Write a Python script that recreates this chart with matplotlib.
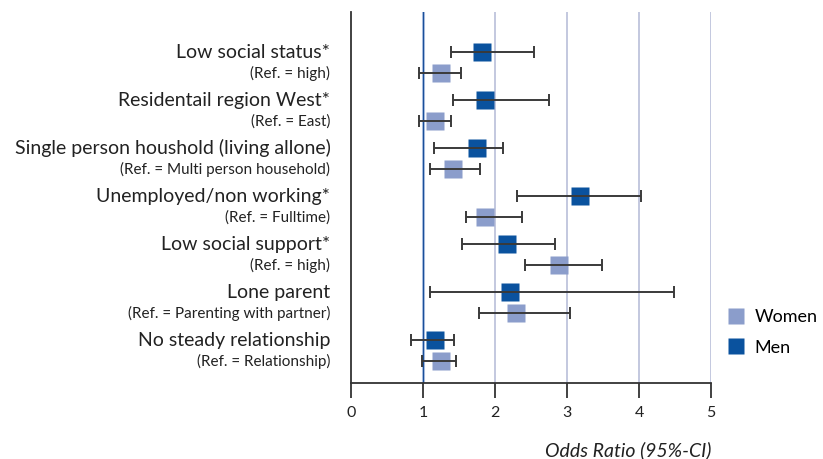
import numpy as np
import matplotlib.pyplot as plt
from matplotlib.transforms import blended_transform_factory

plt.rcParams['font.family'] = ['Lato', 'DejaVu Sans']

# Risk factors and their reference categories
factors = ['Low social status*', 'Residentail region West*',
           'Single person houshold (living allone)', 'Unemployed/non working*',
           'Low social support*', 'Lone parent', 'No steady relationship']
references = ['(Ref. = high)', '(Ref. = East)', '(Ref. = Multi person household)',
              '(Ref. = Fulltime)', '(Ref. = high)', '(Ref. = Parenting with partner)',
              '(Ref. = Relationship)']

# Odds ratios with 95% confidence intervals
men_or = [1.81, 1.86, 1.75, 3.18, 2.16, 2.21, 1.16]
men_lo = [1.38, 1.42, 1.15, 2.30, 1.54, 1.09, 0.83]
men_hi = [2.54, 2.74, 2.11, 4.03, 2.83, 4.48, 1.43]

women_or = [1.24, 1.17, 1.42, 1.86, 2.88, 2.29, 1.24]
women_lo = [0.94, 0.94, 1.09, 1.60, 2.42, 1.78, 0.98]
women_hi = [1.53, 1.38, 1.79, 2.37, 3.48, 3.04, 1.45]

men_color = '#0a529e'
women_color = '#8b9dcb'

fig = plt.figure(figsize=(8.23, 4.59), dpi=100)
ax = fig.add_axes([0.4268, 0.1662, 0.4374, 0.8076])

rows = np.arange(len(factors))
y_men = rows - 0.219
y_women = rows + 0.219

# reference lines
for v in [2, 3, 4, 5]:
    ax.axvline(v, color='#c3c8df', lw=1.4, zorder=0)
ax.axvline(1, color='#c6d5ee', lw=2.2, zorder=0)
ax.axvline(1, color='#1a4f99', lw=1.0, zorder=1)

ax.plot(men_or, y_men, 's', ms=12.3, color=men_color, mec='none', zorder=2, label='Men')
ax.plot(women_or, y_women, 's', ms=12.3, color=women_color, mec='none', zorder=2, label='Women')

for y, m, lo, hi in [(y_men, men_or, men_lo, men_hi), (y_women, women_or, women_lo, women_hi)]:
    m = np.array(m)
    err = [m - np.array(lo), np.array(hi) - m]
    ax.errorbar(m, y, xerr=err, fmt='none', ecolor='#3a3a3a', elinewidth=1.4,
                capsize=4, capthick=1.4, zorder=3)

# row labels to the left of the plot
trans = blended_transform_factory(ax.transAxes, ax.transData)
for i in rows:
    ax.text(-0.058, y_men[i], factors[i], transform=trans, ha='right', va='center',
            fontsize=14, color='#222222')
    ax.text(-0.058, y_women[i], references[i], transform=trans, ha='right',
            va='center', fontsize=11, color='#222222')

ax.set_xlim(0, 5)
ax.set_ylim(6.665, -1.058)
ax.set_xticks([0, 1, 2, 3, 4, 5])
ax.set_yticks([])
ax.tick_params(axis='x', direction='out', length=11, width=1.3, color='#333333',
               labelsize=11.5, labelcolor='#222222', pad=6)
for s in ['top', 'right']:
    ax.spines[s].set_visible(False)
for s in ['left', 'bottom']:
    ax.spines[s].set_color('#333333')
    ax.spines[s].set_linewidth(1.3)

ax.set_xlabel('Odds Ratio (95%-CI)', fontsize=14, style='italic', color='#222222')
ax.xaxis.set_label_coords(1.0, -0.158)
ax.xaxis.label.set_ha('right')

handles, labels = ax.get_legend_handles_labels()
leg = fig.legend(handles[::-1], labels[::-1], loc='center left',
                 bbox_to_anchor=(0.863, 0.276), frameon=False, fontsize=13,
                 handletextpad=0.55, labelspacing=0.8, handlelength=1.0)
for h in leg.legend_handles:
    h.set_markersize(12)

fig.savefig('out.png', dpi=100)
